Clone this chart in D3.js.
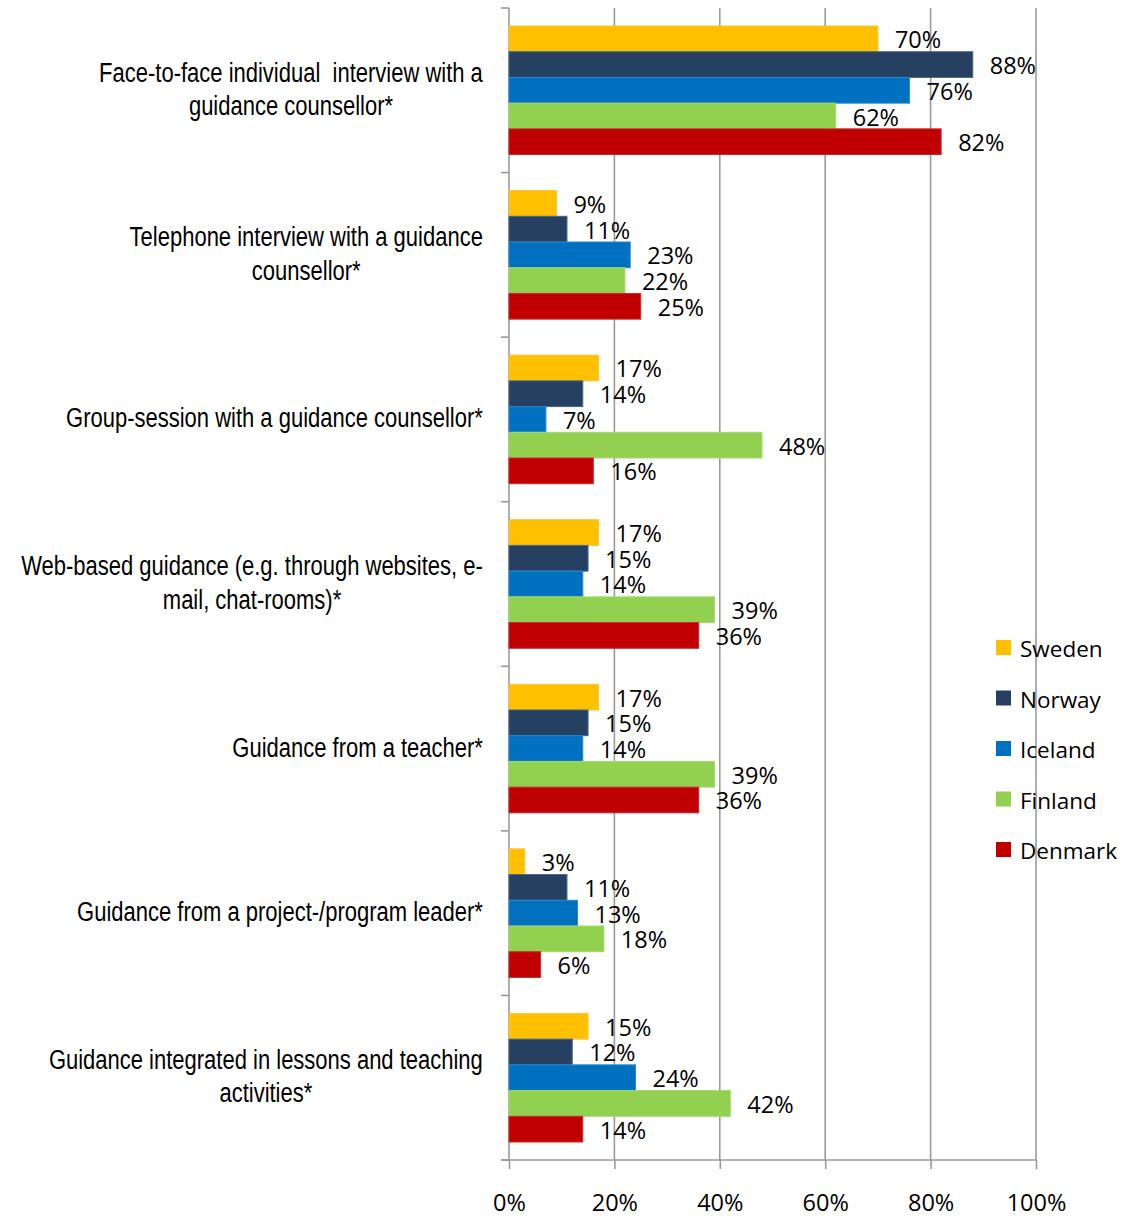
<!DOCTYPE html>
<html>
<head>
<meta charset="utf-8">
<script src="https://cdn.jsdelivr.net/npm/d3@7"></script>
<style>
  html, body { margin: 0; padding: 0; background: #fff; }
  svg { display: block; }
</style>
</head>
<body>
<svg id="chart" width="1137" height="1217"></svg>
<script>
// Categories (line breaks as drawn in the axis labels)
const categories = [
  "Face-to-face individual  interview with a\nguidance counsellor*",
  "Telephone interview with a guidance\ncounsellor*",
  "Group-session with a guidance counsellor*",
  "Web-based guidance (e.g. through websites, e-\nmail, chat-rooms)*",
  "Guidance from a teacher*",
  "Guidance from a project-/program leader*",
  "Guidance integrated in lessons and teaching\nactivities*"
];

const seriesNames = ["Sweden", "Norway", "Iceland", "Finland", "Denmark"];

// Share of respondents (%) per category, one array per country
const sweden  = [70,  9, 17, 17, 17,  3, 15];
const norway  = [88, 11, 14, 15, 15, 11, 12];
const iceland = [76, 23,  7, 14, 14, 13, 24];
const finland = [62, 22, 48, 39, 39, 18, 42];
const denmark = [82, 25, 16, 36, 36,  6, 14];

const tickValues = [0, 20, 40, 60, 80, 100];
const tickLabels = ["0%", "20%", "40%", "60%", "80%", "100%"];

const colors = ["#FFC000", "#254061", "#0070C0", "#92D050", "#C00000"];
const strokes = ["#F5C440", "#4A6587", "#2C86C9", "#A6D873", "#C82A2A"];

const seriesValues = [sweden, norway, iceland, finland, denmark];

const svg = d3.select("#chart");

const plot = { left: 509, right: 1036, top: 8, bottom: 1160 };
const gridColor = "#9A9A9A";
const labelFont = "'Open Sans', 'DejaVu Sans', sans-serif";
// narrow sans: Liberation Sans compressed horizontally
const catFont = "'Liberation Sans', Arial, sans-serif";
const narrow = 0.815;

const x = d3.scaleLinear().domain([0, 100]).range([plot.left, plot.right]);
const y = d3.scaleBand().domain(d3.range(categories.length))
  .range([plot.top, plot.bottom]).paddingInner(0).paddingOuter(0);
const yInner = d3.scaleBand().domain(d3.range(seriesNames.length))
  .range([0, y.bandwidth()]).paddingOuter(0.7).paddingInner(0);

// vertical gridlines
svg.append("g").selectAll("line")
  .data(tickValues.filter(d => d > 0))
  .join("line")
  .attr("x1", d => x(d)).attr("x2", d => x(d))
  .attr("y1", plot.top).attr("y2", plot.bottom)
  .attr("stroke", gridColor).attr("stroke-width", 1.6);

// bottom axis
const xAxis = d3.axisBottom(x).tickValues(tickValues).tickSize(9)
  .tickFormat((d, i) => tickLabels[i]);
const gx = svg.append("g").attr("transform", `translate(0,${plot.bottom})`).call(xAxis);
gx.select(".domain").remove();
gx.append("line").attr("x1", plot.left - 8).attr("x2", plot.right)
  .attr("y1", 0).attr("y2", 0).attr("stroke", gridColor).attr("stroke-width", 1.6);
gx.selectAll(".tick line").attr("stroke", gridColor).attr("stroke-width", 1.6);
gx.selectAll(".tick text").attr("fill", "#000")
  .attr("y", 51).attr("dy", 0)
  .style("font-family", labelFont).style("font-size", "23.5px");

// left axis line with boundary ticks between categories
const gy = svg.append("g");
gy.append("line").attr("x1", plot.left).attr("x2", plot.left)
  .attr("y1", plot.top).attr("y2", plot.bottom)
  .attr("stroke", gridColor).attr("stroke-width", 1.6);
gy.selectAll("line.bnd")
  .data(d3.range(categories.length + 1))
  .join("line").attr("class", "bnd")
  .attr("x1", plot.left - 8).attr("x2", plot.left)
  .attr("y1", i => i < categories.length ? y(i) : plot.bottom)
  .attr("y2", i => i < categories.length ? y(i) : plot.bottom)
  .attr("stroke", gridColor).attr("stroke-width", 1.6);

// bars
const groups = svg.append("g").selectAll("g")
  .data(categories)
  .join("g")
  .attr("transform", (d, i) => `translate(0,${y(i)})`);

groups.each(function (cat, ci) {
  const g = d3.select(this);
  seriesNames.forEach((s, si) => {
    const v = seriesValues[si][ci];
    g.append("rect")
      .attr("x", x(0))
      .attr("y", yInner(si))
      .attr("width", x(v) - x(0))
      .attr("height", yInner.bandwidth())
      .attr("fill", colors[si])
      .attr("stroke", strokes[si])
      .attr("stroke-width", 1);
  });
});

// value labels
groups.each(function (cat, ci) {
  const g = d3.select(this);
  seriesNames.forEach((s, si) => {
    const v = seriesValues[si][ci];
    g.append("text")
      .attr("x", x(v) + 17)
      .attr("y", yInner(si) + yInner.bandwidth() / 2 + 9.5)
      .attr("fill", "#000")
      .style("font-family", labelFont)
      .style("font-size", "23.5px")
      .text(v + "%");
  });
});

// category labels: lines centred within a block right-aligned to the axis
const catG = svg.append("g");
categories.forEach((cat, ci) => {
  const lines = cat.split("\n");
  const lineH = 33.5;
  const cy = y(ci) + y.bandwidth() / 2;
  const holder = catG.append("g");
  const t = holder.append("text")
    .attr("fill", "#000")
    .style("font-family", catFont)
    .style("font-size", "27px")
    .style("white-space", "pre")
    .attr("text-anchor", "middle");
  const spans = lines.map((ln, li) => t.append("tspan")
    .attr("x", 0)
    .attr("y", cy + (li - (lines.length - 1) / 2) * lineH + 8)
    .text(ln));
  const w = d3.max(spans.map(sp => sp.node().getComputedTextLength())) * narrow;
  const cx = 483 - w / 2;
  holder.attr("transform", `translate(${cx},0) scale(${narrow},1)`);
});

// legend
const legend = svg.append("g");
seriesNames.forEach((s, si) => {
  const ly = 640 + si * 50.5;
  legend.append("rect").attr("x", 996).attr("y", ly)
    .attr("width", 15).attr("height", 15).attr("fill", colors[si]);
  legend.append("text").attr("x", 1020).attr("y", ly + 17)
    .attr("fill", "#000")
    .style("font-family", labelFont).style("font-size", "22.5px")
    .text(s);
});
</script>
</body>
</html>
